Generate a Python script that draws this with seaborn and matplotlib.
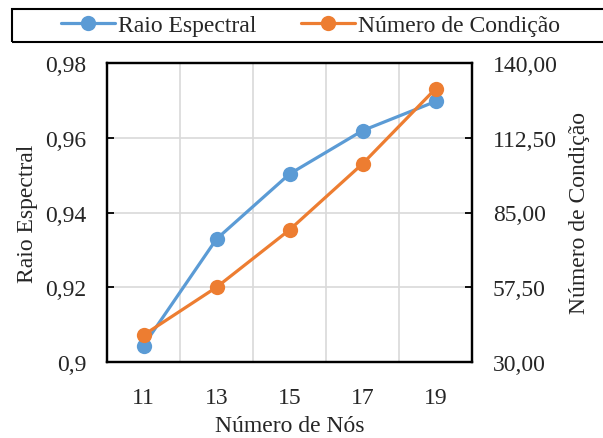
import matplotlib
matplotlib.use("Agg")
import matplotlib.pyplot as plt
import seaborn as sns
import pandas as pd
from matplotlib.patches import Rectangle
from matplotlib.ticker import FixedLocator, FuncFormatter

nodes = [11, 13, 15, 17, 19]
raio = [0.9044, 0.9329, 0.9503, 0.9619, 0.9697]
cond = [39.9, 57.5, 78.6, 102.9, 130.5]
left_ticks = [0.90, 0.92, 0.94, 0.96, 0.98]
left_labels = ["0,9", "0,92", "0,94", "0,96", "0,98"]
right_ticks = [30.0, 57.5, 85.0, 112.5, 140.0]
right_labels = ["30,00", "57,50", "85,00", "112,50", "140,00"]

sns.set_style("white")
plt.rcParams["font.family"] = ["Liberation Serif", "DejaVu Serif"]
FS = 17
plt.rcParams["font.size"] = FS

blue = "#5B9BD5"
orange = "#ED7D31"

df = pd.DataFrame({"Nós": nodes, "Raio": raio, "Cond": cond})

fig = plt.figure(figsize=(6.03, 4.39), dpi=100)
ax = fig.add_axes([107/603, 1-363/439, (472-107)/603, (363-64)/439])
ax2 = ax.twinx()

sns.lineplot(data=df, x="Nós", y="Raio", ax=ax, color=blue, lw=2.3,
             marker="o", markersize=11, markeredgewidth=0, label="Raio Espectral", legend=False)
sns.lineplot(data=df, x="Nós", y="Cond", ax=ax2, color=orange, lw=2.3,
             marker="o", markersize=11, markeredgewidth=0, label="Número de Condição", legend=False)

ax.set_xlim(10, 20)
ax.set_ylim(0.9, 0.98)
ax2.set_ylim(30, 140)

ax.xaxis.set_major_locator(FixedLocator([12, 14, 16, 18]))
ax.xaxis.set_major_formatter(FuncFormatter(lambda v, p: ""))
ax.xaxis.set_minor_locator(FixedLocator(nodes))
ax.xaxis.set_minor_formatter(FuncFormatter(lambda v, p: f"{int(round(v))}"))
ax.tick_params(axis="x", which="major", direction="in", length=5, width=1.3, color="black")
ax.tick_params(axis="x", which="minor", length=0, pad=18, labelsize=FS)

ax.set_yticks(left_ticks)
ax.set_yticklabels(left_labels)
ax2.set_yticks(right_ticks)
ax2.set_yticklabels(right_labels)
ax.tick_params(axis="y", direction="in", length=5, width=1.3, color="black", labelsize=FS, pad=15)
ax2.tick_params(axis="y", direction="in", length=5, width=1.3, color="black", labelsize=FS, pad=15)

ax.grid(True, which="major", color="#D9D9D9", lw=1.2)
ax.set_axisbelow(True)

for a in (ax, ax2):
    for s in a.spines.values():
        s.set_color("black")
        s.set_linewidth(1.6)

ax.set_xlabel("Número de Nós", fontsize=FS, labelpad=5)
ax.set_ylabel("Raio Espectral", fontsize=FS, labelpad=5)
ax2.set_ylabel("Número de Condição", fontsize=FS, labelpad=8)

h1, l1 = ax.get_legend_handles_labels()
h2, l2 = ax2.get_legend_handles_labels()
fig.legend(h1 + h2, l1 + l2, loc="center", bbox_to_anchor=(310.5/603, 1-26.5/439),
           ncol=2, frameon=False, fontsize=FS, handlelength=2.29, handletextpad=0.13,
           columnspacing=1.9, borderpad=0)
fig.patches.append(Rectangle((11.7/603, 1-43/439), 600/603, 33/439, transform=fig.transFigure,
                             fill=False, edgecolor="black", lw=1.5))

fig.savefig("out.png", dpi=100)
